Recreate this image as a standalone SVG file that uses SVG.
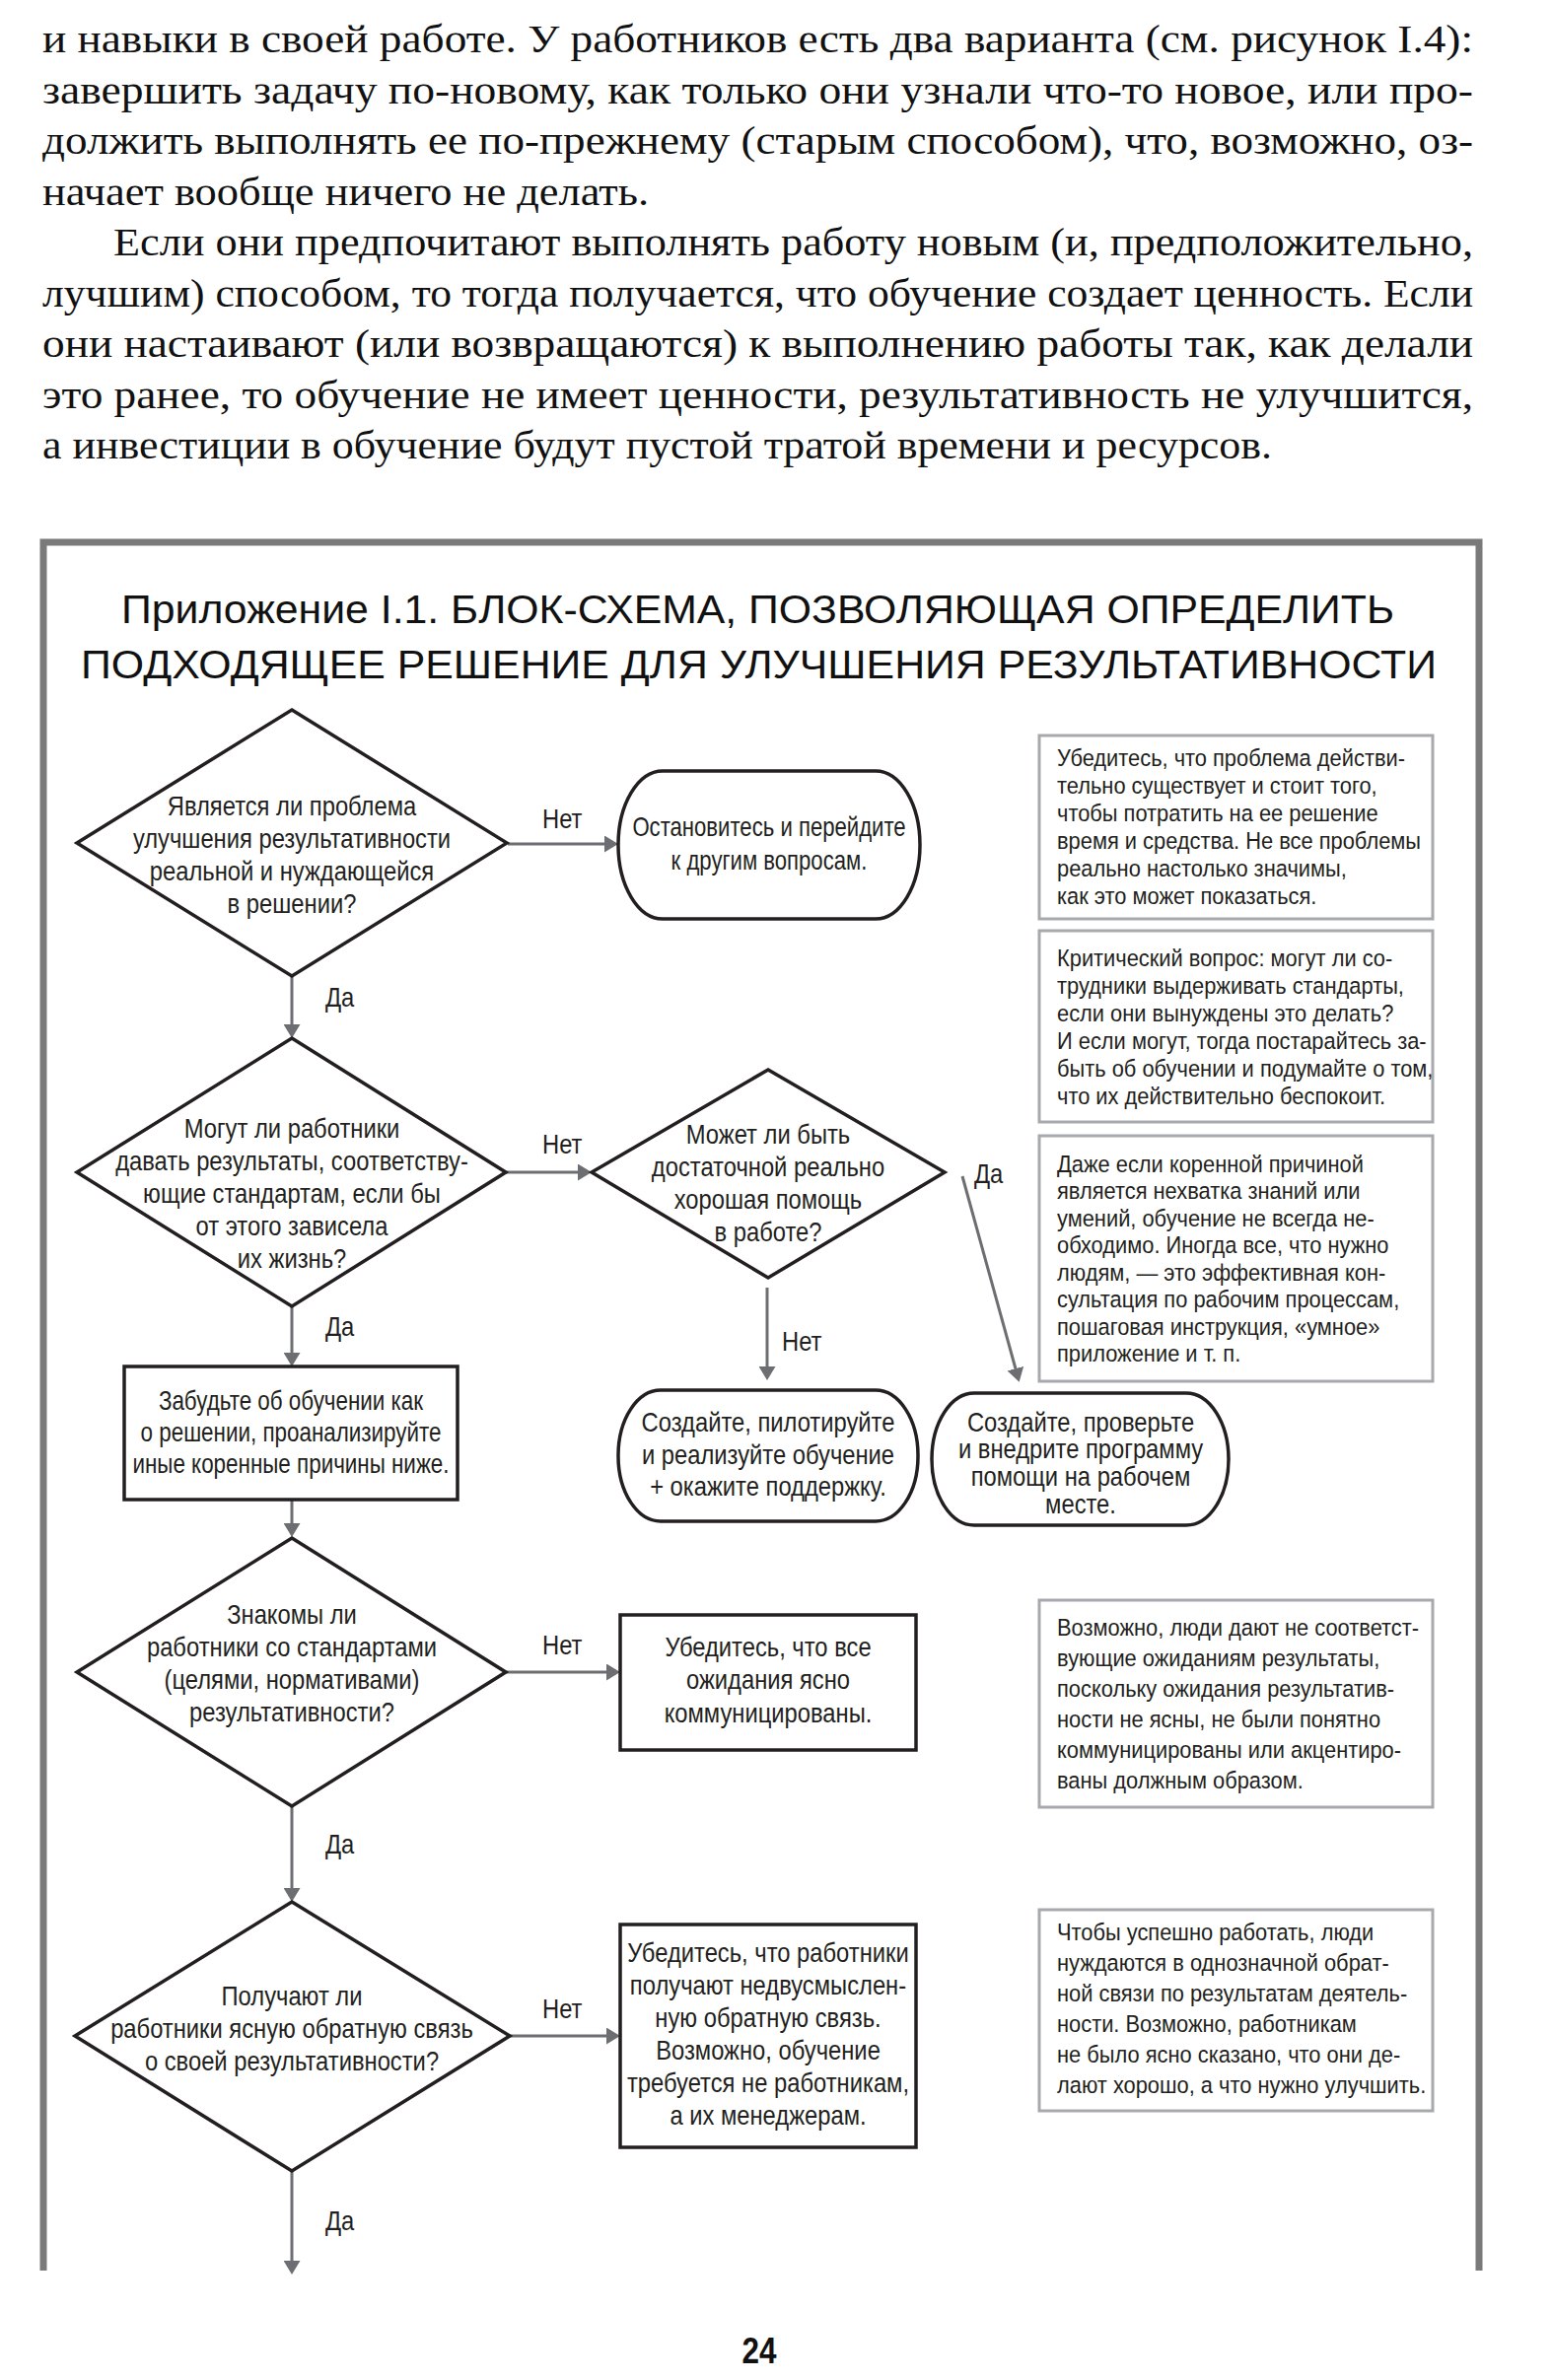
<svg xmlns="http://www.w3.org/2000/svg" width="1574" height="2414" viewBox="0 0 1574 2414">
<style>
.body{font-family:"Liberation Serif","Times New Roman",serif;font-size:39px;fill:#111}
.title{font-family:"Liberation Sans",Arial,sans-serif;font-size:40px;fill:#111}
.n{fill:#fff;stroke:#231f20;stroke-width:3.5}
.note{fill:#fff;stroke:#a7a9ac;stroke-width:3}
.c{stroke:#6d6e71;stroke-width:3;fill:none;marker-end:url(#ah)}
.t{font-family:"Liberation Sans",Arial,sans-serif;font-size:27px;fill:#231f20;text-anchor:middle}
.lb{font-family:"Liberation Sans",Arial,sans-serif;font-size:27px;fill:#231f20}
.nt{font-family:"Liberation Sans",Arial,sans-serif;font-size:23.5px;fill:#231f20}
.pg{font-family:"Liberation Sans",Arial,sans-serif;font-size:37px;font-weight:bold;fill:#111;text-anchor:middle}
</style>
<defs>
<marker id="ah" viewBox="0 0 14 17" refX="4" refY="8.5" markerWidth="14" markerHeight="17" markerUnits="userSpaceOnUse" orient="auto">
<path d="M0,0 L14,8.5 L0,17 z" fill="#6d6e71"/>
</marker>
</defs>
<rect width="1574" height="2414" fill="#fff"/>

<g id="bodytext" class="body">
<text x="43" y="53" textLength="1451" lengthAdjust="spacingAndGlyphs">и навыки в своей работе. У работников есть два варианта (см. рисунок I.4):</text>
<text x="43" y="104.5" textLength="1451" lengthAdjust="spacingAndGlyphs">завершить задачу по-новому, как только они узнали что-то новое, или про-</text>
<text x="43" y="156" textLength="1451" lengthAdjust="spacingAndGlyphs">должить выполнять ее по-прежнему (старым способом), что, возможно, оз-</text>
<text x="43" y="207.5" textLength="615" lengthAdjust="spacingAndGlyphs">начает вообще ничего не делать.</text>
<text x="115" y="259" textLength="1379" lengthAdjust="spacingAndGlyphs">Если они предпочитают выполнять работу новым (и, предположительно,</text>
<text x="43" y="310.5" textLength="1451" lengthAdjust="spacingAndGlyphs">лучшим) способом, то тогда получается, что обучение создает ценность. Если</text>
<text x="43" y="362" textLength="1451" lengthAdjust="spacingAndGlyphs">они настаивают (или возвращаются) к выполнению работы так, как делали</text>
<text x="43" y="413.5" textLength="1451" lengthAdjust="spacingAndGlyphs">это ранее, то обучение не имеет ценности, результативность не улучшится,</text>
<text x="43" y="465" textLength="1247" lengthAdjust="spacingAndGlyphs">а инвестиции в обучение будут пустой тратой времени и ресурсов.</text>
</g>

<path id="frame" d="M44,2303 V550 H1500 V2303" fill="none" stroke="#7a7a7a" stroke-width="7"/>

<g id="title" class="title">
<text x="123" y="632" textLength="1291" lengthAdjust="spacingAndGlyphs">Приложение I.1. БЛОК-СХЕМА, ПОЗВОЛЯЮЩАЯ ОПРЕДЕЛИТЬ</text>
<text x="82" y="688" textLength="1375" lengthAdjust="spacingAndGlyphs">ПОДХОДЯЩЕЕ РЕШЕНИЕ ДЛЯ УЛУЧШЕНИЯ РЕЗУЛЬТАТИВНОСТИ</text>
</g>

<g id="connectors">
<line class="c" x1="296" y1="990" x2="296" y2="1043"/>
<line class="c" x1="515" y1="856" x2="617" y2="856"/>
<line class="c" x1="513" y1="1189" x2="590" y2="1189"/>
<line class="c" x1="778" y1="1306" x2="778" y2="1390"/>
<line class="c" x1="976" y1="1193" x2="1031" y2="1392"/>
<line class="c" x1="296" y1="1325" x2="296" y2="1376"/>
<line class="c" x1="296" y1="1521" x2="296" y2="1549"/>
<line class="c" x1="513" y1="1696" x2="619" y2="1696"/>
<line class="c" x1="296" y1="1832" x2="296" y2="1919"/>
<line class="c" x1="517" y1="2065" x2="619" y2="2065"/>
<line class="c" x1="296" y1="2202" x2="296" y2="2297"/>
<text class="lb" transform="translate(330,1021) scale(0.88,1)">Да</text>
<text class="lb" transform="translate(550,840) scale(0.88,1)">Нет</text>
<text class="lb" transform="translate(550,1170) scale(0.88,1)">Нет</text>
<text class="lb" transform="translate(793,1370) scale(0.88,1)">Нет</text>
<text class="lb" transform="translate(988,1200) scale(0.88,1)">Да</text>
<text class="lb" transform="translate(330,1355) scale(0.88,1)">Да</text>
<text class="lb" transform="translate(550,1678) scale(0.88,1)">Нет</text>
<text class="lb" transform="translate(330,1880) scale(0.88,1)">Да</text>
<text class="lb" transform="translate(550,2047) scale(0.88,1)">Нет</text>
<text class="lb" transform="translate(330,2262) scale(0.88,1)">Да</text>
</g>

<g id="d1">
<polygon class="n" points="296,720 514,855 296,990 78,855"/>
<g transform="translate(296,0) scale(0.88,1)">
<text class="t" x="0" y="827">Является ли проблема</text>
<text class="t" x="0" y="860">улучшения результативности</text>
<text class="t" x="0" y="893">реальной и нуждающейся</text>
<text class="t" x="0" y="926">в решении?</text>
</g>
</g>

<g id="t1">
<rect class="n" x="627" y="782" width="306" height="150" rx="45" ry="75"/>
<g transform="translate(780,0) scale(0.82,1)">
<text class="t" x="0" y="848">Остановитесь и перейдите</text>
<text class="t" x="0" y="882">к другим вопросам.</text>
</g>
</g>

<g id="d2">
<polygon class="n" points="296,1053 513,1189 296,1325 78,1189"/>
<g transform="translate(296,0) scale(0.88,1)">
<text class="t" x="0" y="1154">Могут ли работники</text>
<text class="t" x="0" y="1187">давать результаты, соответству-</text>
<text class="t" x="0" y="1220">ющие стандартам, если бы</text>
<text class="t" x="0" y="1253">от этого зависела</text>
<text class="t" x="0" y="1286">их жизнь?</text>
</g>
</g>

<g id="d3">
<polygon class="n" points="779,1085 958,1189 779,1296 600,1189"/>
<g transform="translate(779,0) scale(0.88,1)">
<text class="t" x="0" y="1160">Может ли быть</text>
<text class="t" x="0" y="1193">достаточной реально</text>
<text class="t" x="0" y="1226">хорошая помощь</text>
<text class="t" x="0" y="1259">в работе?</text>
</g>
</g>

<g id="b1">
<rect class="n" x="126" y="1386" width="338" height="135"/>
<g transform="translate(295,0) scale(0.83,1)">
<text class="t" x="0" y="1430">Забудьте об обучении как</text>
<text class="t" x="0" y="1462">о решении, проанализируйте</text>
<text class="t" x="0" y="1494">иные коренные причины ниже.</text>
</g>
</g>

<g id="t2">
<rect class="n" x="627" y="1410" width="304" height="133" rx="43" ry="66"/>
<g transform="translate(779,0) scale(0.88,1)">
<text class="t" x="0" y="1452">Создайте, пилотируйте</text>
<text class="t" x="0" y="1485">и реализуйте обучение</text>
<text class="t" x="0" y="1517">+ окажите поддержку.</text>
</g>
</g>

<g id="t3">
<rect class="n" x="945" y="1413" width="301" height="134" rx="43" ry="67"/>
<g transform="translate(1096,0) scale(0.88,1)">
<text class="t" x="0" y="1452">Создайте, проверьте</text>
<text class="t" x="0" y="1479">и внедрите программу</text>
<text class="t" x="0" y="1507">помощи на рабочем</text>
<text class="t" x="0" y="1535">месте.</text>
</g>
</g>

<g id="d4">
<polygon class="n" points="296,1560 513,1696 296,1832 78,1696"/>
<g transform="translate(296,0) scale(0.88,1)">
<text class="t" x="0" y="1647">Знакомы ли</text>
<text class="t" x="0" y="1680">работники со стандартами</text>
<text class="t" x="0" y="1713">(целями, нормативами)</text>
<text class="t" x="0" y="1746">результативности?</text>
</g>
</g>

<g id="b2">
<rect class="n" x="629" y="1638" width="300" height="137"/>
<g transform="translate(779,0) scale(0.88,1)">
<text class="t" x="0" y="1680">Убедитесь, что все</text>
<text class="t" x="0" y="1713">ожидания ясно</text>
<text class="t" x="0" y="1747">коммуницированы.</text>
</g>
</g>

<g id="d5">
<polygon class="n" points="296,1929 517,2065 296,2202 76,2065"/>
<g transform="translate(296,0) scale(0.88,1)">
<text class="t" x="0" y="2034">Получают ли</text>
<text class="t" x="0" y="2067">работники ясную обратную связь</text>
<text class="t" x="0" y="2100">о своей результативности?</text>
</g>
</g>

<g id="b3">
<rect class="n" x="629" y="1952" width="300" height="226"/>
<g transform="translate(779,0) scale(0.88,1)">
<text class="t" x="0" y="1990">Убедитесь, что работники</text>
<text class="t" x="0" y="2023">получают недвусмыслен-</text>
<text class="t" x="0" y="2056">ную обратную связь.</text>
<text class="t" x="0" y="2089">Возможно, обучение</text>
<text class="t" x="0" y="2122">требуется не работникам,</text>
<text class="t" x="0" y="2155">а их менеджерам.</text>
</g>
</g>

<g id="n1">
<rect class="note" x="1054" y="746" width="399" height="186"/>
<g transform="translate(1072,0) scale(0.93,1)">
<text class="nt" x="0" y="777">Убедитесь, что проблема действи-</text>
<text class="nt" x="0" y="805">тельно существует и стоит того,</text>
<text class="nt" x="0" y="833">чтобы потратить на ее решение</text>
<text class="nt" x="0" y="861">время и средства. Не все проблемы</text>
<text class="nt" x="0" y="889">реально настолько значимы,</text>
<text class="nt" x="0" y="917">как это может показаться.</text>
</g>
</g>

<g id="n2">
<rect class="note" x="1054" y="944" width="399" height="194"/>
<g transform="translate(1072,0) scale(0.93,1)">
<text class="nt" x="0" y="980">Критический вопрос: могут ли со-</text>
<text class="nt" x="0" y="1008">трудники выдерживать стандарты,</text>
<text class="nt" x="0" y="1036">если они вынуждены это делать?</text>
<text class="nt" x="0" y="1064">И если могут, тогда постарайтесь за-</text>
<text class="nt" x="0" y="1092">быть об обучении и подумайте о том,</text>
<text class="nt" x="0" y="1120">что их действительно беспокоит.</text>
</g>
</g>

<g id="n3">
<rect class="note" x="1054" y="1152" width="399" height="249"/>
<g transform="translate(1072,0) scale(0.93,1)">
<text class="nt" x="0" y="1189">Даже если коренной причиной</text>
<text class="nt" x="0" y="1216.5">является нехватка знаний или</text>
<text class="nt" x="0" y="1244">умений, обучение не всегда не-</text>
<text class="nt" x="0" y="1271.5">обходимо. Иногда все, что нужно</text>
<text class="nt" x="0" y="1299">людям, — это эффективная кон-</text>
<text class="nt" x="0" y="1326.5">сультация по рабочим процессам,</text>
<text class="nt" x="0" y="1354">пошаговая инструкция, «умное»</text>
<text class="nt" x="0" y="1381.5">приложение и т. п.</text>
</g>
</g>

<g id="n4">
<rect class="note" x="1054" y="1623" width="399" height="210"/>
<g transform="translate(1072,0) scale(0.93,1)">
<text class="nt" x="0" y="1659">Возможно, люди дают не соответст-</text>
<text class="nt" x="0" y="1690">вующие ожиданиям результаты,</text>
<text class="nt" x="0" y="1721">поскольку ожидания результатив-</text>
<text class="nt" x="0" y="1752">ности не ясны, не были понятно</text>
<text class="nt" x="0" y="1783">коммуницированы или акцентиро-</text>
<text class="nt" x="0" y="1814">ваны должным образом.</text>
</g>
</g>

<g id="n5">
<rect class="note" x="1054" y="1937" width="399" height="204"/>
<g transform="translate(1072,0) scale(0.93,1)">
<text class="nt" x="0" y="1968">Чтобы успешно работать, люди</text>
<text class="nt" x="0" y="1999">нуждаются в однозначной обрат-</text>
<text class="nt" x="0" y="2030">ной связи по результатам деятель-</text>
<text class="nt" x="0" y="2061">ности. Возможно, работникам</text>
<text class="nt" x="0" y="2092">не было ясно сказано, что они де-</text>
<text class="nt" x="0" y="2123">лают хорошо, а что нужно улучшить.</text>
</g>
</g>

<text id="pagenum" class="pg" transform="translate(770,2397) scale(0.85,1)">24</text>
</svg>
